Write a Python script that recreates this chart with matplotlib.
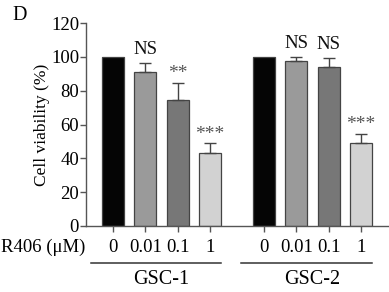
import matplotlib
matplotlib.use("Agg")
import matplotlib.pyplot as plt
from matplotlib.transforms import blended_transform_factory

plt.rcParams['font.family'] = ['Liberation Serif', 'DejaVu Serif']

groups = ["GSC-1", "GSC-2"]
doses = ["0", "0.01", "0.1", "1"]
gsc1_values = [100, 91, 74.5, 43]
gsc1_errors = [0, 5.2, 10, 5.8]
gsc2_values = [100, 97.5, 94, 49]
gsc2_errors = [0, 2.3, 5.3, 5.2]
gsc1_labels = ["", "NS", "**", "***"]
gsc2_labels = ["", "NS", "NS", "***"]
bar_colors = ["#050505", "#9a9a9a", "#777777", "#d2d2d2"]

W, H = 389, 292
fig = plt.figure(figsize=(W/100, H/100), dpi=100)
ax = fig.add_axes([86/W, 1-226/H, (388-86)/W, (226-23)/H])

gap = 1.67
pos1 = [0, 1, 2, 3]
pos2 = [p + 3 + gap for p in pos1]
spine_c = "#555555"

for pos, vals, errs, labs in [(pos1, gsc1_values, gsc1_errors, gsc1_labels),
                              (pos2, gsc2_values, gsc2_errors, gsc2_labels)]:
    ax.bar(pos, vals, width=0.68, color=bar_colors, edgecolor="#444444", linewidth=0.9, zorder=2)
    for x, v, e, l in zip(pos, vals, errs, labs):
        if e > 0:
            ax.errorbar([x], [v], yerr=[[0], [e]], fmt="none", ecolor="#444444",
                        elinewidth=1.0, capsize=4.5, capthick=1.0, zorder=3)
        if l:
            if l == "NS":
                ax.text(x, v + e + 3, l, ha="center", va="bottom", fontsize=13.5, color="#111111")
            else:
                ax.text(x, v + e + 0.5, l, ha="center", va="bottom", fontsize=14, color="#555555")

ax.set_ylim(0, 120)
ax.set_xlim(-0.84, pos2[-1] + 0.84)
ax.set_yticks([0, 20, 40, 60, 80, 100, 120])
ax.set_xticks(pos1 + pos2)
ax.set_xticklabels(doses + doses)
ax.tick_params(axis="y", direction="out", length=4, width=1, color=spine_c, labelsize=13.5, pad=1)
ax.tick_params(axis="x", direction="out", length=4, width=1, color=spine_c, labelsize=13.5, pad=5)
for s in ["top", "right"]:
    ax.spines[s].set_visible(False)
for s in ["left", "bottom"]:
    ax.spines[s].set_color(spine_c)
    ax.spines[s].set_linewidth(1.0)

ax.set_ylabel("Cell viability (%)", fontsize=12.5, va="center")
ax.yaxis.set_label_coords((42 - 86) / (388 - 86), 0.5)

tr = blended_transform_factory(ax.transData, fig.transFigure)
ax.text(-0.84 - 0.02, 1 - 247/H, "R406 (μM)", transform=tr, ha="right", va="center", fontsize=13.5)
for g, pos in zip(groups, [pos1, pos2]):
    ax.plot([pos[0] - 0.7, pos[-1] + 0.35], [1 - 263/H] * 2, transform=tr, color="#333333",
            lw=1.1, clip_on=False)
    ax.text((pos[0] + pos[-1]) / 2, 1 - 279/H, g, transform=tr, ha="center", va="center", fontsize=14.5)

fig.text(12/W, 1 - 15/H, "D", fontsize=14.5, ha="left", va="center")

fig.savefig("out.png", dpi=100, facecolor="white")
